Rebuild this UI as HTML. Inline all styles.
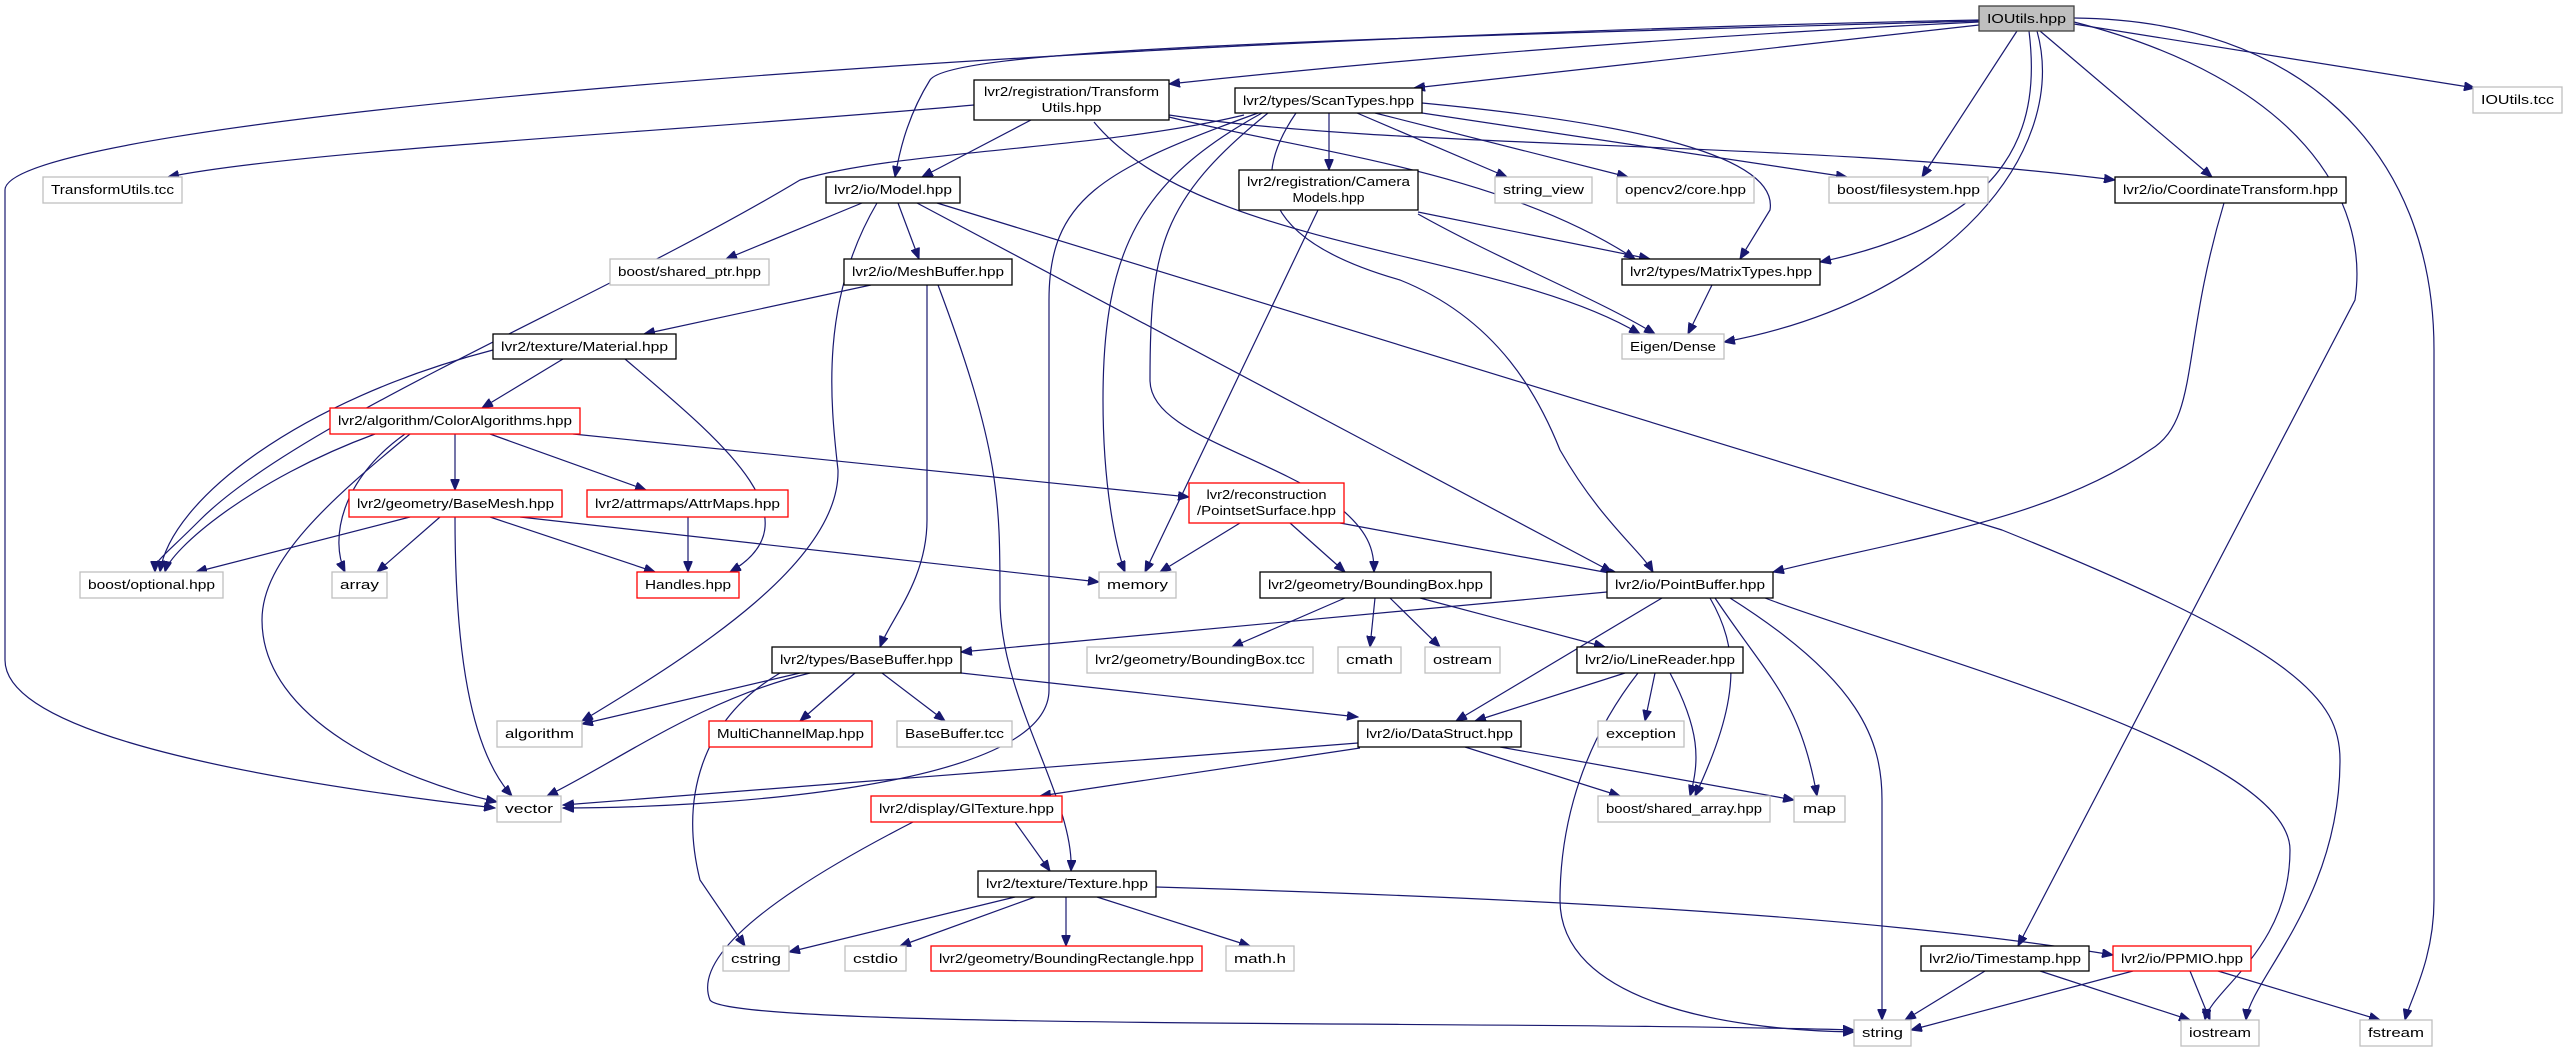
<!DOCTYPE html>
<html><head><meta charset="utf-8"><style>
html,body{margin:0;padding:0;background:#fff;}
svg{display:block;}
text{font-family:"Liberation Sans",sans-serif;font-size:13px;fill:#000;text-anchor:middle;}
.e{fill:none;stroke:#191970;stroke-width:1.2;marker-end:url(#a);}
.d{fill:#fff;stroke:#000;stroke-width:1.3;}
.x{fill:#fff;stroke:#bfbfbf;stroke-width:1.3;}
.r{fill:#fff;stroke:#ff0000;stroke-width:1.3;}
</style></head><body>
<svg width="2567" height="1052" viewBox="0 0 2567 1052" xmlns="http://www.w3.org/2000/svg">
<defs><marker id="a" markerUnits="userSpaceOnUse" markerWidth="12" markerHeight="9" refX="11" refY="4.5" orient="auto"><path d="M0,0 L11,4.5 L0,9 z" fill="#191970" stroke="#191970"/></marker></defs>
<g>
<path class="e" d="M1979,20 C1000,40 5,120 5,190 L5,660 C5,740 300,785 495,808"/>
<path class="e" d="M1979,22 C1600,40 1300,70 1169,84"/>
<path class="e" d="M1979,21 C1300,40 950,50 930,80 C905,120 898,160 895,177"/>
<path class="e" d="M1979,25 L1414,88"/>
<path class="e" d="M2017,31 L1922,177"/>
<path class="e" d="M2029,31 C2040,120 2020,220 1820,262"/>
<path class="e" d="M2037,31 C2070,150 1950,300 1724,342"/>
<path class="e" d="M2040,31 L2212,177"/>
<path class="e" d="M2074,24 L2475,88"/>
<path class="e" d="M2074,22 C2300,80 2370,200 2355,300 L2018,946"/>
<path class="e" d="M2074,18 C2300,20 2434,150 2434,350 L2434,900 C2434,960 2410,1000 2405,1020"/>
<path class="e" d="M937,203 L2002,530 C2300,650 2340,700 2340,760 C2340,900 2250,980 2246,1020"/>
<path class="e" d="M1244,115 C1100,150 900,150 800,180 C600,300 300,420 200,520 C160,560 155,560 155,572"/>
<path class="e" d="M1258,113 C1100,170 1049,200 1049,300 L1049,690 C1049,790 700,808 563,808"/>
<path class="e" d="M1262,113 C1140,180 1103,250 1103,400 C1103,500 1120,560 1125,572"/>
<path class="e" d="M1268,113 C1160,200 1150,250 1150,380 C1150,430 1250,450 1330,500 C1370,530 1374,550 1374,572"/>
<path class="e" d="M1296,113 C1250,180 1260,240 1400,280 C1500,320 1540,400 1560,450 C1600,520 1640,550 1653,572"/>
<path class="e" d="M1329,113 L1329,170"/>
<path class="e" d="M1357,113 L1507,177"/>
<path class="e" d="M1375,113 L1628,177"/>
<path class="e" d="M1422,113 L1847,177"/>
<path class="e" d="M1422,103 C1600,120 1780,150 1770,210 L1740,259"/>
<path class="e" d="M1169,115 C1400,150 1800,140 2115,180"/>
<path class="e" d="M1169,117 C1300,150 1500,170 1635,259"/>
<path class="e" d="M1094,122 C1200,250 1500,250 1640,334"/>
<path class="e" d="M1031,120 L922,177"/>
<path class="e" d="M974,105 C700,130 300,150 168,177"/>
<path class="e" d="M1418,212 L1650,259"/>
<path class="e" d="M1418,214 C1500,260 1600,300 1655,334"/>
<path class="e" d="M1318,210 L1145,572"/>
<path class="e" d="M1712,285 L1688,334"/>
<path class="e" d="M2224,203 C2180,350 2200,420 2150,450 C2050,520 1900,540 1773,572"/>
<path class="e" d="M862,203 L726,259"/>
<path class="e" d="M898,203 L919,259"/>
<path class="e" d="M877,203 C820,300 830,400 838,470 C840,560 700,650 582,721"/>
<path class="e" d="M917,203 L1612,572"/>
<path class="e" d="M871,285 L644,334"/>
<path class="e" d="M927,285 L927,520 C927,580 890,620 880,647"/>
<path class="e" d="M938,285 C1000,450 1000,500 1000,600 C1000,700 1075,800 1071,871"/>
<path class="e" d="M493,350 C300,400 170,500 160,572"/>
<path class="e" d="M625,359 C720,440 820,520 730,572"/>
<path class="e" d="M563,359 L482,408"/>
<path class="e" d="M375,434 C250,480 170,550 165,572"/>
<path class="e" d="M405,434 C340,480 330,540 345,572"/>
<path class="e" d="M410,434 C330,500 262,560 262,620 C262,720 400,780 497,802"/>
<path class="e" d="M455,434 L455,490"/>
<path class="e" d="M490,434 L646,490"/>
<path class="e" d="M573,434 L1189,497"/>
<path class="e" d="M410,517 L196,572"/>
<path class="e" d="M440,517 L377,572"/>
<path class="e" d="M455,517 C455,650 470,750 512,796"/>
<path class="e" d="M490,517 L655,572"/>
<path class="e" d="M520,517 L1099,582"/>
<path class="e" d="M688,517 L688,572"/>
<path class="e" d="M1240,523 L1160,572"/>
<path class="e" d="M1290,523 L1345,572"/>
<path class="e" d="M1340,523 L1620,575"/>
<path class="e" d="M1345,598 L1232,647"/>
<path class="e" d="M1375,598 L1370,647"/>
<path class="e" d="M1390,598 L1440,647"/>
<path class="e" d="M1420,598 L1605,647"/>
<path class="e" d="M1607,592 L961,652"/>
<path class="e" d="M1662,598 L1456,721"/>
<path class="e" d="M1710,598 C1740,650 1740,700 1695,796"/>
<path class="e" d="M1715,598 C1770,680 1800,700 1817,796"/>
<path class="e" d="M1730,598 C1860,680 1882,740 1882,800 L1882,1020"/>
<path class="e" d="M1765,598 C1900,650 2290,750 2290,850 C2290,950 2210,990 2205,1020"/>
<path class="e" d="M1625,673 L1475,721"/>
<path class="e" d="M1655,673 L1645,721"/>
<path class="e" d="M1670,673 C1700,730 1700,760 1690,796"/>
<path class="e" d="M1638,673 C1570,760 1560,850 1560,900 C1560,1000 1720,1030 1854,1032"/>
<path class="e" d="M800,673 L582,724"/>
<path class="e" d="M855,673 L800,721"/>
<path class="e" d="M882,673 L945,721"/>
<path class="e" d="M810,673 C700,700 620,760 547,796"/>
<path class="e" d="M780,673 C700,720 680,800 700,880 L745,946"/>
<path class="e" d="M961,673 L1358,717"/>
<path class="e" d="M1358,743 L563,805"/>
<path class="e" d="M1360,748 L1040,796"/>
<path class="e" d="M1465,747 L1620,796"/>
<path class="e" d="M1500,747 L1794,800"/>
<path class="e" d="M1015,822 L1050,871"/>
<path class="e" d="M913,822 C800,880 690,950 710,1000 C730,1030 1500,1020 1854,1030"/>
<path class="e" d="M1015,897 L789,952"/>
<path class="e" d="M1035,897 L900,946"/>
<path class="e" d="M1066,897 L1066,946"/>
<path class="e" d="M1097,897 L1250,946"/>
<path class="e" d="M1156,887 C1600,900 1900,920 2113,955"/>
<path class="e" d="M1985,971 L1905,1020"/>
<path class="e" d="M2040,971 L2190,1020"/>
<path class="e" d="M2133,971 L1911,1030"/>
<path class="e" d="M2190,971 L2210,1020"/>
<path class="e" d="M2218,971 L2380,1020"/>
</g>
<g>
<rect x="1979" y="6" width="95" height="25" fill="#bfbfbf" stroke="#404040" stroke-width="1.3"/><text x="2026.5" y="23" textLength="79" lengthAdjust="spacingAndGlyphs">IOUtils.hpp</text>
<rect class="d" x="974" y="80" width="195" height="40"/><text x="1071.5" y="96" textLength="175" lengthAdjust="spacingAndGlyphs">lvr2/registration/Transform</text><text x="1071.5" y="112" textLength="60" lengthAdjust="spacingAndGlyphs">Utils.hpp</text>
<rect class="x" x="43" y="177" width="139" height="26"/><text x="112.5" y="194" textLength="123" lengthAdjust="spacingAndGlyphs">TransformUtils.tcc</text>
<rect class="d" x="826" y="177" width="134" height="26"/><text x="893" y="194" textLength="118" lengthAdjust="spacingAndGlyphs">lvr2/io/Model.hpp</text>
<rect class="x" x="610" y="259" width="159" height="26"/><text x="689.5" y="276" textLength="143" lengthAdjust="spacingAndGlyphs">boost/shared_ptr.hpp</text>
<rect class="d" x="844" y="259" width="168" height="26"/><text x="928" y="276" textLength="152" lengthAdjust="spacingAndGlyphs">lvr2/io/MeshBuffer.hpp</text>
<rect class="d" x="493" y="334" width="183" height="25"/><text x="584.5" y="351" textLength="167" lengthAdjust="spacingAndGlyphs">lvr2/texture/Material.hpp</text>
<rect class="r" x="330" y="408" width="250" height="26"/><text x="455" y="425" textLength="234" lengthAdjust="spacingAndGlyphs">lvr2/algorithm/ColorAlgorithms.hpp</text>
<rect class="r" x="349" y="490" width="213" height="27"/><text x="455.5" y="508" textLength="197" lengthAdjust="spacingAndGlyphs">lvr2/geometry/BaseMesh.hpp</text>
<rect class="r" x="587" y="490" width="201" height="27"/><text x="687.5" y="508" textLength="185" lengthAdjust="spacingAndGlyphs">lvr2/attrmaps/AttrMaps.hpp</text>
<rect class="r" x="1189" y="483" width="155" height="40"/><text x="1266.5" y="499" textLength="120" lengthAdjust="spacingAndGlyphs">lvr2/reconstruction</text><text x="1266.5" y="515" textLength="139" lengthAdjust="spacingAndGlyphs">/PointsetSurface.hpp</text>
<rect class="d" x="1235" y="88" width="187" height="25"/><text x="1328.5" y="105" textLength="171" lengthAdjust="spacingAndGlyphs">lvr2/types/ScanTypes.hpp</text>
<rect class="d" x="1239" y="170" width="179" height="40"/><text x="1328.5" y="186" textLength="163" lengthAdjust="spacingAndGlyphs">lvr2/registration/Camera</text><text x="1328.5" y="202" textLength="72" lengthAdjust="spacingAndGlyphs">Models.hpp</text>
<rect class="x" x="1495" y="177" width="97" height="26"/><text x="1543.5" y="194" textLength="81" lengthAdjust="spacingAndGlyphs">string_view</text>
<rect class="x" x="1617" y="177" width="137" height="26"/><text x="1685.5" y="194" textLength="121" lengthAdjust="spacingAndGlyphs">opencv2/core.hpp</text>
<rect class="x" x="1829" y="177" width="159" height="26"/><text x="1908.5" y="194" textLength="143" lengthAdjust="spacingAndGlyphs">boost/filesystem.hpp</text>
<rect class="d" x="2115" y="177" width="231" height="26"/><text x="2230.5" y="194" textLength="215" lengthAdjust="spacingAndGlyphs">lvr2/io/CoordinateTransform.hpp</text>
<rect class="x" x="2473" y="87" width="89" height="26"/><text x="2517.5" y="104" textLength="73" lengthAdjust="spacingAndGlyphs">IOUtils.tcc</text>
<rect class="d" x="1622" y="259" width="198" height="26"/><text x="1721" y="276" textLength="182" lengthAdjust="spacingAndGlyphs">lvr2/types/MatrixTypes.hpp</text>
<rect class="x" x="1622" y="334" width="102" height="25"/><text x="1673" y="351" textLength="86" lengthAdjust="spacingAndGlyphs">Eigen/Dense</text>
<rect class="x" x="80" y="572" width="143" height="26"/><text x="151.5" y="589" textLength="127" lengthAdjust="spacingAndGlyphs">boost/optional.hpp</text>
<rect class="x" x="332" y="572" width="55" height="26"/><text x="359.5" y="589" textLength="39" lengthAdjust="spacingAndGlyphs">array</text>
<rect class="r" x="637" y="572" width="102" height="26"/><text x="688" y="589" textLength="86" lengthAdjust="spacingAndGlyphs">Handles.hpp</text>
<rect class="x" x="1099" y="572" width="77" height="26"/><text x="1137.5" y="589" textLength="61" lengthAdjust="spacingAndGlyphs">memory</text>
<rect class="d" x="1260" y="572" width="231" height="26"/><text x="1375.5" y="589" textLength="215" lengthAdjust="spacingAndGlyphs">lvr2/geometry/BoundingBox.hpp</text>
<rect class="d" x="1607" y="572" width="166" height="26"/><text x="1690" y="589" textLength="150" lengthAdjust="spacingAndGlyphs">lvr2/io/PointBuffer.hpp</text>
<rect class="d" x="772" y="647" width="189" height="26"/><text x="866.5" y="664" textLength="173" lengthAdjust="spacingAndGlyphs">lvr2/types/BaseBuffer.hpp</text>
<rect class="x" x="1087" y="647" width="226" height="26"/><text x="1200" y="664" textLength="210" lengthAdjust="spacingAndGlyphs">lvr2/geometry/BoundingBox.tcc</text>
<rect class="x" x="1338" y="647" width="63" height="26"/><text x="1369.5" y="664" textLength="47" lengthAdjust="spacingAndGlyphs">cmath</text>
<rect class="x" x="1425" y="647" width="75" height="26"/><text x="1462.5" y="664" textLength="59" lengthAdjust="spacingAndGlyphs">ostream</text>
<rect class="d" x="1577" y="647" width="166" height="26"/><text x="1660" y="664" textLength="150" lengthAdjust="spacingAndGlyphs">lvr2/io/LineReader.hpp</text>
<rect class="x" x="497" y="721" width="85" height="26"/><text x="539.5" y="738" textLength="69" lengthAdjust="spacingAndGlyphs">algorithm</text>
<rect class="r" x="709" y="721" width="163" height="26"/><text x="790.5" y="738" textLength="147" lengthAdjust="spacingAndGlyphs">MultiChannelMap.hpp</text>
<rect class="x" x="897" y="721" width="115" height="26"/><text x="954.5" y="738" textLength="99" lengthAdjust="spacingAndGlyphs">BaseBuffer.tcc</text>
<rect class="d" x="1358" y="721" width="163" height="26"/><text x="1439.5" y="738" textLength="147" lengthAdjust="spacingAndGlyphs">lvr2/io/DataStruct.hpp</text>
<rect class="x" x="1598" y="721" width="86" height="26"/><text x="1641" y="738" textLength="70" lengthAdjust="spacingAndGlyphs">exception</text>
<rect class="x" x="497" y="796" width="64" height="26"/><text x="529" y="813" textLength="48" lengthAdjust="spacingAndGlyphs">vector</text>
<rect class="r" x="871" y="796" width="191" height="26"/><text x="966.5" y="813" textLength="175" lengthAdjust="spacingAndGlyphs">lvr2/display/GlTexture.hpp</text>
<rect class="x" x="1598" y="796" width="172" height="26"/><text x="1684" y="813" textLength="156" lengthAdjust="spacingAndGlyphs">boost/shared_array.hpp</text>
<rect class="x" x="1794" y="796" width="51" height="26"/><text x="1819.5" y="813" textLength="33" lengthAdjust="spacingAndGlyphs">map</text>
<rect class="d" x="978" y="871" width="178" height="26"/><text x="1067" y="888" textLength="162" lengthAdjust="spacingAndGlyphs">lvr2/texture/Texture.hpp</text>
<rect class="x" x="723" y="946" width="66" height="25"/><text x="756" y="963" textLength="50" lengthAdjust="spacingAndGlyphs">cstring</text>
<rect class="x" x="845" y="946" width="61" height="25"/><text x="875.5" y="963" textLength="45" lengthAdjust="spacingAndGlyphs">cstdio</text>
<rect class="r" x="931" y="946" width="271" height="25"/><text x="1066.5" y="963" textLength="255" lengthAdjust="spacingAndGlyphs">lvr2/geometry/BoundingRectangle.hpp</text>
<rect class="x" x="1226" y="946" width="68" height="25"/><text x="1260" y="963" textLength="52" lengthAdjust="spacingAndGlyphs">math.h</text>
<rect class="d" x="1921" y="946" width="168" height="25"/><text x="2005" y="963" textLength="152" lengthAdjust="spacingAndGlyphs">lvr2/io/Timestamp.hpp</text>
<rect class="r" x="2113" y="946" width="138" height="25"/><text x="2182" y="963" textLength="122" lengthAdjust="spacingAndGlyphs">lvr2/io/PPMIO.hpp</text>
<rect class="x" x="1854" y="1020" width="57" height="26"/><text x="1882.5" y="1037" textLength="41" lengthAdjust="spacingAndGlyphs">string</text>
<rect class="x" x="2181" y="1020" width="78" height="26"/><text x="2220" y="1037" textLength="62" lengthAdjust="spacingAndGlyphs">iostream</text>
<rect class="x" x="2360" y="1020" width="72" height="26"/><text x="2396" y="1037" textLength="56" lengthAdjust="spacingAndGlyphs">fstream</text>
</g>
</svg>
</body></html>
